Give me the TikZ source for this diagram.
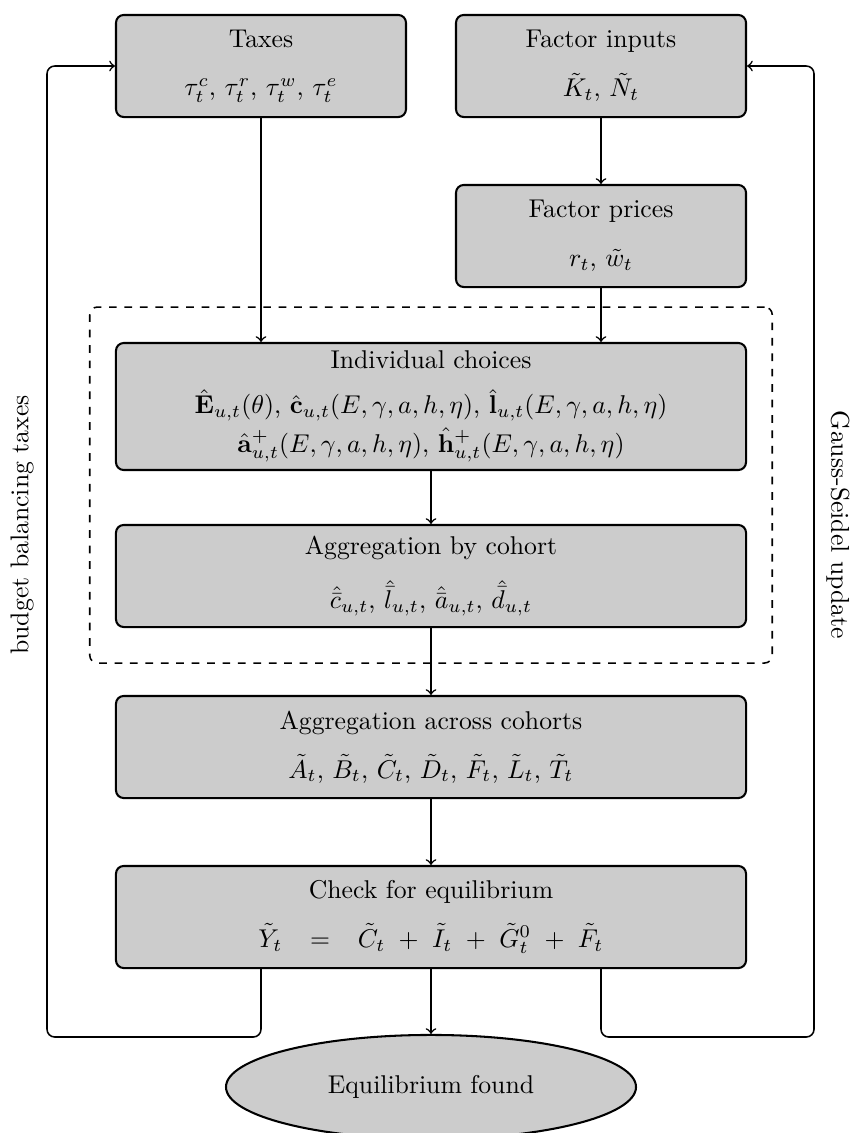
\documentclass[tikz,border=0pt]{standalone}
\usepackage{amsmath}
\usetikzlibrary{shapes.geometric,fit}

\begin{document}
\begin{tikzpicture}[x=0.389pt,y=-0.389pt,
  flowbox/.style={draw, thick, fill=black!20, rounded corners=3pt, align=center,
                  inner sep=0pt, minimum height=39.7pt},
  smallbox/.style={flowbox, minimum width=112.8pt},
  widebox/.style={flowbox, minimum width=245.1pt},
  arr/.style={semithick,->},
  backarr/.style={semithick,->,rounded corners=3pt}]
\useasboundingbox (0,0) rectangle (855,1133);

% boxes
\node[smallbox] (taxes) at (261,66)
  {Taxes\\[6.9pt] $\tau_t^c$, $\tau_t^r$, $\tau_t^w$, $\tau_t^e$};
\node[smallbox] (factin) at (601,66)
  {Factor inputs\\[6.9pt] $\tilde{K}_t$, $\tilde{N}_t$};
\node[smallbox] (factpr) at (601,236)
  {Factor prices\\[6.9pt] $r_t$, $\tilde{w}_t$};
\node[widebox, minimum height=49.4pt] (indiv) at (431,406.5)
  {Individual choices\\[5.5pt]
   $\hat{\mathbf{E}}_{u,t}(\theta)$, $\hat{\mathbf{c}}_{u,t}(E,\gamma,a,h,\eta)$, $\hat{\mathbf{l}}_{u,t}(E,\gamma,a,h,\eta)$\\[1.5pt]
   $\hat{\mathbf{a}}^+_{u,t}(E,\gamma,a,h,\eta)$, $\hat{\mathbf{h}}^+_{u,t}(E,\gamma,a,h,\eta)$};
\node[widebox] (aggc) at (431,576)
  {Aggregation by cohort\\[6.9pt]
   $\hat{\bar{c}}_{u,t}$, $\hat{\bar{l}}_{u,t}$, $\hat{\bar{a}}_{u,t}$, $\hat{\bar{d}}_{u,t}$};
\node[widebox] (aggx) at (431,747)
  {Aggregation across cohorts\\[6.9pt]
   $\tilde{A}_t$, $\tilde{B}_t$, $\tilde{C}_t$, $\tilde{D}_t$, $\tilde{F}_t$, $\tilde{L}_t$, $\tilde{T}_t$};
\node[widebox] (check) at (431,917)
  {Check for equilibrium\\[6.9pt]
   $\tilde{Y}_t\hspace{8pt}=\hspace{8pt}\tilde{C}_t\hspace{3pt}+\hspace{3pt}\tilde{I}_t\hspace{3pt}+\hspace{3pt}\tilde{G}_t^0\hspace{3pt}+\hspace{3pt}\tilde{F}_t$};
\node[draw, thick, fill=black!20, ellipse, minimum width=159.5pt, minimum height=40.5pt,
      inner sep=0pt] (eq) at (431,1087) {Equilibrium found};

% dashed group
\node[draw, semithick, dashed, rounded corners=3pt, fit=(indiv)(aggc),
      inner xsep=9.8pt, inner ysep=13.6pt] (grp) {};

% corners of feedback loops
\coordinate (lcorner) at (47,1037);
\coordinate (rcorner) at (814,1037);

% arrows
\draw[arr] (taxes.south) -- (taxes.south |- indiv.north);
\draw[arr] (factin) -- (factpr);
\draw[arr] (factpr.south) -- (factpr.south |- indiv.north);
\draw[arr] (indiv) -- (aggc);
\draw[arr] (aggc) -- (aggx);
\draw[arr] (aggx) -- (check);
\draw[arr] (check) -- (eq);
\draw[backarr] (check.south -| taxes.south) |- (lcorner) |- (taxes.west);
\draw[backarr] (check.south -| factin.south) |- (rcorner) |- (factin.east);

% loop labels
\node[rotate=90] (lbl1) at (22,525) {budget balancing taxes};
\node[rotate=-90] (lbl2) at (838,525) {Gauss-Seidel update};
\end{tikzpicture}
\end{document}
